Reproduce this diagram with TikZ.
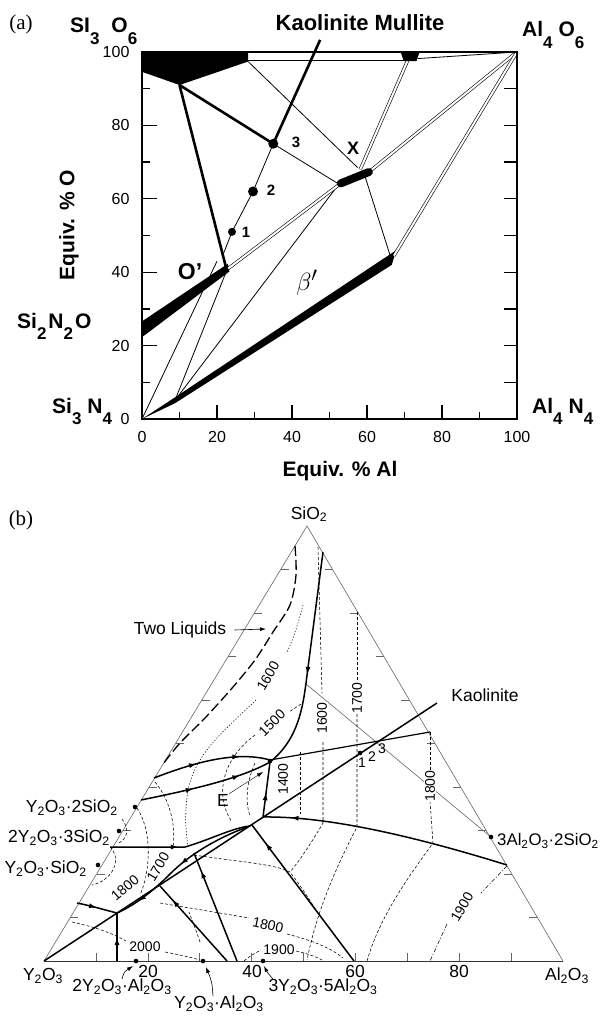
\documentclass[tikz,border=0pt]{standalone}
\usepackage{fontspec}
\setmainfont{Liberation Serif}
\setsansfont{Liberation Sans}
\usetikzlibrary{arrows.meta,calc,decorations.markings}

\newcommand{\chdn}[1]{\raisebox{-.55em}{\fontsize{17}{17}\selectfont #1}}

\begin{document}
\begin{tikzpicture}[x=1pt,y=-1pt,
    frame/.style={line width=1.2pt},
    heavy/.style={line width=2.6pt},
    thinl/.style={line width=.8pt},
    dbl/.style={double,double distance=2pt,line width=.6pt},
    chem/.style={font=\sffamily\bfseries\fontsize{21}{21}\selectfont,inner sep=0pt},
    ticklab/.style={font=\sffamily\fontsize{16}{16}\selectfont,inner sep=0pt},
    panel/.style={font=\fontsize{21}{21}\selectfont,inner sep=0pt},
    lbl/.style={font=\sffamily\fontsize{17.5}{17.5}\selectfont,inner sep=0pt},
    tlab/.style={font=\sffamily\fontsize{14}{14}\selectfont,inner sep=.6pt,fill=white},
    side/.style={line width=.6pt,black!60},
    iso/.style={line width=.55pt,dash pattern=on 3pt off 2pt},
    isodot/.style={line width=.55pt,dash pattern=on 1.2pt off 1.8pt},
    isodd/.style={line width=.55pt,dash pattern=on 4pt off 2pt on 1pt off 2pt},
    liq/.style={line width=1.3pt,dash pattern=on 10pt off 4pt},
    bnd/.style={line width=1.5pt},
    lead/.style={line width=.6pt,-{Latex[length=6pt,width=4pt]}},
    arr/.style={postaction={decorate,decoration={markings,
      mark=at position #1 with {\arrow{Latex[length=8pt,width=5pt]}}}}}
  ]
\useasboundingbox (0,0) rectangle (602,1016);

% (a) Si-Al-O-N plane
\node[panel] (pa) at (21,24) {(a)};
\begin{scope}[shift={(142,419)},x=3.75pt,y=3.67pt]
  \fill (0,100) -- (28.3,100) -- (28.3,97.4) -- (10,91) -- (0,94.6) -- cycle;
  \fill (0,22.3) -- (0,26.6) -- (22.9,42.3) -- (23.3,40.2) -- cycle;
  \fill (0,0) -- (8.8,5.9) -- (67.8,46) -- (66.6,42) -- (8.8,4.3) -- cycle;
  \draw[thinl] (28.3,97.7) -- (70,97.7);
  \draw[thinl] (73.5,98.2) -- (100,100);
  \draw[thinl] (28.3,97.4) -- (57.5,68.5);
  \draw[thinl] (35,75) -- (52.5,64);
  \draw[thinl] (59.5,66) -- (66.4,43.8);
  \draw[thinl] (0,0) -- (20,43);
  \draw[thinl] (8.8,5.1) -- (22.6,40.5);
  \draw[thinl] (8.8,5.1) -- (52.5,64);
  \draw[dbl] (23,41) -- (53,64.2);
  \draw[dbl] (60.5,67.3) -- (100,100);
  \draw[dbl] (70.8,97.6) -- (58.2,68);
  \draw[dbl] (67.2,44.5) -- (100,100);
  \draw[heavy] (10,91) -- (22.6,40.5);
  \draw[heavy] (10,91) -- (35,75);
  \draw[heavy] (47.5,103.3) -- (35,75);
  \draw[thinl] (35,75) -- (29.6,62) -- (24,51) -- (21.7,45);
  \fill (69.8,97.5) -- (73.2,97.5) -- (74,100) -- (69,100) -- cycle;
  \draw[line width=8pt,line cap=round] (53,64.2) -- (60.5,67.3);
  \fill (35,75) circle[radius=5pt] (29.6,62) circle[radius=5pt] (24,51) circle[radius=4pt];
  \draw[frame] (0,0) rectangle (100,100);
  \foreach \t in {10,30,...,90}{
    \draw[frame] (\t,0) -- ++(0,2);
    \draw[frame] (0,\t) -- ++(2.2,0);}
  \foreach \t in {20,40,...,80}{
    \draw[frame] (\t,0) -- ++(0,3.8);
    \draw[frame] (0,\t) -- ++(4,0);}
  \foreach \t in {10,20,...,90}
    \draw[frame] (100,\t) -- ++(-3.6,0);
  \foreach \t in {0,20,...,100}{
    \node[ticklab,anchor=north] (xt\t) at (\t,-3.3) {\t};
    \node[ticklab,anchor=east] (yt\t) at (-3.3,\t) {\t};}
\end{scope}
\node[chem,anchor=base west] (si3o6) at (70,33) {SI\chdn{3}\hspace{12pt}O\chdn{6}};
\node[chem,font=\sffamily\bfseries\fontsize{22}{22}\selectfont] (kaomul) at (360,23) {Kaolinite Mullite};
\node[chem,anchor=base west] (al4o6) at (522,37) {Al\chdn{4}\hspace{6pt}O\chdn{6}};
\node[chem,anchor=base west] (si2n2o) at (17,328) {Si\chdn{2}\hspace{2pt}N\chdn{2}\hspace{2pt}O};
\node[chem,anchor=base west] (si3n4) at (52,413) {Si\chdn{3}\hspace{6pt}N\chdn{4}};
\node[chem,anchor=base west] (al4n4) at (532,413) {Al\chdn{4}\hspace{6pt}N\chdn{4}};
\node[chem,rotate=90] (yax) at (69,225) {Equiv. \% O};
\node[chem] (xax) at (340,471) {Equiv. \% Al};
\node[chem,font=\sffamily\bfseries\fontsize{23}{23}\selectfont] (optag) at (190,272) {O'};
\node[chem,font=\sffamily\bfseries\fontsize{18}{18}\selectfont] (xtag) at (353,148) {X};
\node (beta) at (307,283) {\fontsize{30}{30}\selectfont$\beta'$};
\node[chem,font=\sffamily\bfseries\fontsize{15}{15}\selectfont] (n1) at (246,232) {1};
\node[chem,font=\sffamily\bfseries\fontsize{15}{15}\selectfont] (n2) at (271,190) {2};
\node[chem,font=\sffamily\bfseries\fontsize{15}{15}\selectfont] (n3) at (296,142) {3};

% (b) Y2O3-Al2O3-SiO2 liquidus
\node[panel] (pb) at (21,520) {(b)};
\coordinate (Y) at (44,961);
\coordinate (A) at (563,961);
\coordinate (S) at (307,526);
\draw[side] (Y) -- (S) -- (A);
\draw[line width=1pt,black!80] (Y) -- (A);
\foreach \i in {1,...,9}{
  \draw[side] ($(Y)!\i/10!(S)$) -- ++(8,0);
  \draw[side] ($(A)!\i/10!(S)$) -- ++(-8,0);
  \draw[side] ($(Y)!\i/10!(A)$) -- ++(0,-8);}
\draw[side] (306,684) -- (491,837);
% isotherms
\draw[iso] (318,547) -- (322,693);
\draw[iso] (323,742) -- (323,823) .. controls (310,845) and (300,860) .. (290,872);
\draw[iso] (357,612) -- (357,683);
\draw[iso] (357,714) -- (357,827) .. controls (340,860) and (318,905) .. (307,960);
\draw[iso] (430,732) -- (430,770);
\draw[iso] (430,801) -- (433,843) .. controls (412,872) and (380,915) .. (367,961);
\draw[isodd] (507,866) -- (481,893);
\draw[isodd] (447,924) -- (430,961);
\draw[isodot] (303,605) .. controls (297,628) and (292,642) .. (287,652);
\draw[isodot] (256,700) .. controls (225,730) and (196,752) .. (188,790) .. controls (184,815) and (186,832) .. (188,847);
\draw[iso] (301,704) -- (289,712);
\draw[iso] (255,735) .. controls (226,756) and (212,792) .. (232,822);
\draw[iso] (155,782) .. controls (170,800) and (176,825) .. (173,847);
\draw[iso] (137,808) .. controls (152,830) and (151,870) .. (140,895);
\draw[iso] (110,847) .. controls (122,858) and (114,880) .. (92,885);
\draw[iso] (122,819) .. controls (130,830) and (127,838) .. (119,843);
\draw[iso] (255,763) .. controls (245,785) and (246,805) .. (250,816);
\draw[iso] (300,752) -- (300,814);
\draw[iso] (194,855) .. controls (240,862) and (275,864) .. (290,872) .. controls (300,885) and (310,900) .. (317,912);
\draw[iso] (160,903) .. controls (190,908) and (220,913) .. (249,918);
\draw[iso] (287,934) .. controls (310,940) and (330,947) .. (343,958);
\draw[iso] (72,922) .. controls (95,927) and (112,933) .. (126,941);
\draw[iso] (165,952) .. controls (180,955) and (190,957) .. (200,960);
\draw[iso] (244,961) .. controls (250,956) and (255,953) .. (261,950);
\draw[iso] (296,951) .. controls (305,953) and (315,956) .. (322,960);
\draw[iso] (200,942) .. controls (196,930) and (192,920) .. (189,912);
\node[tlab,rotate=60] (i1600a) at (268,676) {1600};
\node[tlab,rotate=45] (i1500) at (272,723) {1500};
\node[tlab,rotate=90] (i1600b) at (322,718) {1600};
\node[tlab,rotate=90] (i1700a) at (357,698) {1700};
\node[tlab,rotate=90] (i1800a) at (430,786) {1800};
\node[tlab,rotate=90] (i1400) at (283,779) {1400};
\node[tlab,rotate=40] (i1800b) at (125,888) {1800};
\node[tlab,rotate=60] (i1700b) at (158,867) {1700};
\node[tlab] (i2000) at (145,947) {2000};
\node[tlab,rotate=-12] (i1800c) at (268,925) {1800};
\node[tlab] (i1900a) at (279,950) {1900};
\node[tlab,rotate=60] (i1900b) at (462,907) {1900};
% boundary curves
\draw[liq] plot[smooth] coordinates {(295,546) (296,575) (290,605) (273,632) (255,660) (233,687) (205,718) (180,743) (163,764)};
\draw[bnd,arr=.56] (323,552) -- (306,683) .. controls (302,715) and (295,742) .. (270,762);
\draw[bnd,arr=.38,arr=.75] (154,778) .. controls (190,764) and (235,750) .. (270,760);
\draw[bnd,arr=.4,arr=.76] (141,800) .. controls (190,790) and (240,779) .. (270,762);
\draw[line width=1.2pt] (270,760) -- (430,732);
\draw[bnd,arr=.45] (263,817) -- (270,762);
\draw[bnd,arr=.89] (507,865) .. controls (420,838) and (330,816) .. (263,817);
\draw[bnd] (44,961) -- (437,703);
\draw[bnd,arr=.48] (110,847) -- (185,847) .. controls (212,839) and (232,828) .. (250,826);
\draw[bnd,arr=.5,arr=.85] (250,826) .. controls (222,836) and (192,852) .. (170,874) .. controls (152,892) and (135,905) .. (117,913);
\draw[bnd,arr=.5] (117,961) -- (117,913);
\draw[bnd,arr=.5] (77,903) .. controls (92,906) and (105,910) .. (117,913);
\draw[bnd,arr=.82] (227,961) -- (160,886);
\draw[bnd,arr=.84] (237,961) -- (194,853);
\draw[bnd,arr=.87] (354,961) -- (252,825);
\foreach \p in {(135,807),(119,831),(98,865),(491,837),(136,961),(203,961),(263,961),(360,753),(270,761)}
  \fill \p circle[radius=2.3pt];
% labels
\node[lbl] (sio2) at (309,514) {SiO\textsubscript{2}};
\node[lbl] (y2o3) at (43,976) {Y\textsubscript{2}O\textsubscript{3}};
\node[lbl] (al2o3) at (567,976) {Al\textsubscript{2}O\textsubscript{3}};
\foreach \v/\x in {20/148,40/252,60/355,80/459}
  \node[lbl] (bt\v) at (\x,971) {\v};
\node[lbl] (twoliq) at (180,630) {Two Liquids};
\coordinate (liqtip) at (266,629);
\draw[lead] ([xshift=8pt]twoliq.east) -- (liqtip);
\node[lbl] (kaol) at (485,695) {Kaolinite};
\node[lbl,anchor=west,font=\sffamily\fontsize{16.8}{16.8}\selectfont] (mull) at (497,841) {3Al\textsubscript{2}O\textsubscript{3}·2SiO\textsubscript{2}};
\node[lbl,anchor=east] (y2s) at (118,808) {Y\textsubscript{2}O\textsubscript{3}·2SiO\textsubscript{2}};
\node[lbl,anchor=east] (y2y3s) at (110,838) {2Y\textsubscript{2}O\textsubscript{3}·3SiO\textsubscript{2}};
\node[lbl,anchor=east] (ys) at (87,869) {Y\textsubscript{2}O\textsubscript{3}·SiO\textsubscript{2}};
\node[lbl] (elab) at (223,800) {E};
\coordinate (etip) at (263,772);
\draw[lead,line width=.4pt] (elab.north east) -- (etip);
\node[font=\sffamily\fontsize{14}{14}\selectfont,inner sep=0pt] (k1) at (362,763) {1};
\node[font=\sffamily\fontsize{14}{14}\selectfont,inner sep=0pt] (k2) at (372,757) {2};
\node[font=\sffamily\fontsize{14}{14}\selectfont,inner sep=0pt] (k3) at (382,749) {3};
\node[lbl] (yal2) at (122,987) {2Y\textsubscript{2}O\textsubscript{3}·Al\textsubscript{2}O\textsubscript{3}};
\node[lbl] (yal) at (219,1004) {Y\textsubscript{2}O\textsubscript{3}·Al\textsubscript{2}O\textsubscript{3}};
\node[lbl] (y3a5) at (323,987) {3Y\textsubscript{2}O\textsubscript{3}·5Al\textsubscript{2}O\textsubscript{3}};
\coordinate (dyal2) at (133,966);
\coordinate (dyal) at (206,967);
\coordinate (dy3a5) at (264,966);
\draw[lead] (yal2.north) .. controls (124,972) .. (dyal2);
\draw[lead] ([xshift=-6pt]yal.north) .. controls (212,982) .. (dyal);
\draw[lead] ([xshift=-50pt]y3a5.north) .. controls (267,972) .. (dy3a5);
\end{tikzpicture}
\end{document}
